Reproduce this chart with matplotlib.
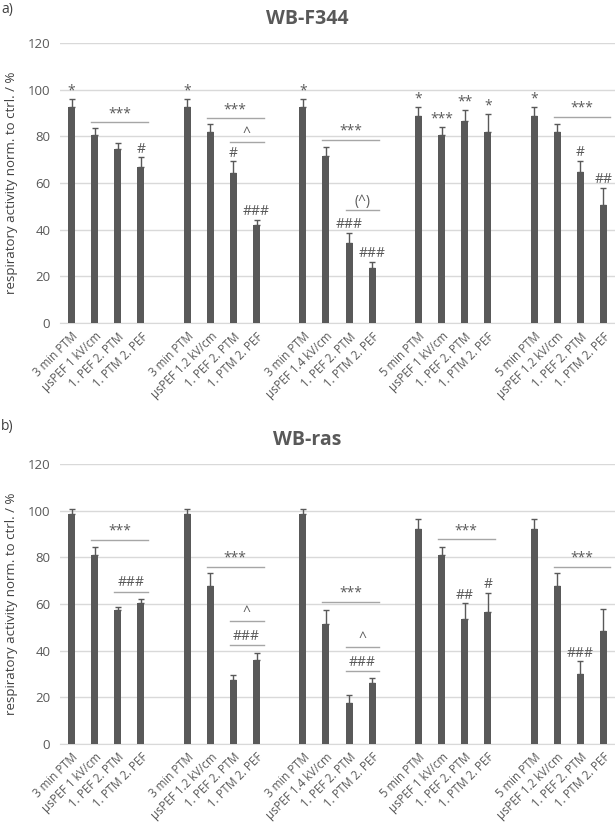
import matplotlib.pyplot as plt

plt.rcParams['font.family'] = ['Open Sans', 'DejaVu Sans']

# categories per group (4 bars each, 5 groups)
grupos = [
    ["3 min PTM", "µsPEF 1 kV/cm", "1. PEF 2. PTM", "1. PTM 2. PEF"],
    ["3 min PTM", "µsPEF 1.2 kV/cm", "1. PEF 2. PTM", "1. PTM 2. PEF"],
    ["3 min PTM", "µsPEF 1.4 kV/cm", "1. PEF 2. PTM", "1. PTM 2. PEF"],
    ["5 min PTM", "µsPEF 1 kV/cm", "1. PEF 2. PTM", "1. PTM 2. PEF"],
    ["5 min PTM", "µsPEF 1.2 kV/cm", "1. PEF 2. PTM", "1. PTM 2. PEF"],
]

# WB-F344
f344_val = [92.5, 80.5, 74.5, 67.0,
            92.5, 81.7, 64.3, 42.0,
            92.5, 71.6, 34.1, 23.7,
            88.7, 80.6, 86.7, 81.9,
            88.7, 81.7, 64.6, 50.6]
f344_err = [3.5, 3.3, 2.5, 4.0,
            3.5, 3.5, 5.0, 2.3,
            3.5, 3.8, 4.5, 2.6,
            4.0, 3.3, 4.4, 7.7,
            4.0, 3.5, 4.8, 7.4]

# WB-ras
ras_val = [98.7, 81.0, 57.3, 60.3,
           98.7, 67.8, 27.4, 36.0,
           98.7, 51.3, 17.5, 26.1,
           92.3, 81.0, 53.4, 56.6,
           92.3, 67.7, 30.0, 48.6]
ras_err = [2.0, 3.6, 1.6, 1.8,
           2.0, 5.3, 2.1, 2.9,
           2.0, 6.0, 3.7, 2.1,
           4.3, 3.6, 6.9, 8.3,
           4.3, 5.4, 5.4, 9.4]

# significance marks over single bars: (group, bar, text)
f344_marks = [(0, 0, '*'), (0, 3, '#'),
              (1, 0, '*'), (1, 2, '#'), (1, 3, '###'),
              (2, 0, '*'), (2, 2, '###'), (2, 3, '###'),
              (3, 0, '*'), (3, 1, '***'), (3, 2, '**'), (3, 3, '*'),
              (4, 0, '*'), (4, 2, '#'), (4, 3, '##')]
ras_marks = [(3, 2, '##'), (3, 3, '#'), (4, 2, '###')]

# brackets: (group, first bar, last bar, height, text)
f344_lines = [(0, 1, 3, 86.1, '***'),
              (1, 1, 3, 87.7, '***'), (1, 2, 3, 77.4, '^'),
              (2, 1, 3, 78.6, '***'), (2, 2, 3, 48.3, '(^)'),
              (4, 1, 3, 88.4, '***')]
ras_lines = [(0, 1, 3, 87.6, '***'), (0, 2, 3, 65.3, '###'),
             (1, 1, 3, 76.0, '***'), (1, 2, 3, 52.6, '^'), (1, 2, 3, 42.5, '###'),
             (2, 1, 3, 60.9, '***'), (2, 2, 3, 41.5, '^'), (2, 2, 3, 31.1, '###'),
             (3, 1, 3, 87.7, '***'),
             (4, 1, 3, 76.0, '***')]

cor = '#595959'
grade = '#d9d9d9'


def pos(g, b):
    return g * 5 + b


def painel(ax, vals, errs, marks, lines, titulo):
    xs = [pos(g, b) for g in range(5) for b in range(4)]
    ax.bar(xs, vals, width=0.3, color=cor, zorder=3)
    ax.errorbar(xs, vals, yerr=[[0] * len(errs), errs], fmt='none',
                ecolor=cor, elinewidth=1, capsize=2.5, capthick=1, zorder=3)
    for g, b, t in marks:
        i = g * 4 + b
        ax.text(pos(g, b), vals[i] + errs[i] + 0.3, t, ha='center', va='bottom',
                fontsize=10, color=cor)
    for g, b0, b1, y, t in lines:
        ax.plot([pos(g, b0) - 0.15, pos(g, b1) + 0.3], [y, y], color='#a6a6a6',
                lw=1, zorder=4)
        ax.text((pos(g, b0) + pos(g, b1)) / 2 + 0.07, y + 0.5, t, ha='center',
                va='bottom', fontsize=10, color=cor)
    ax.set_xlim(-0.5, 23.5)
    ax.set_ylim(0, 120)
    ax.set_yticks(range(0, 121, 20))
    ax.yaxis.grid(True, color=grade, lw=1, zorder=0)
    for s in ['top', 'right', 'left']:
        ax.spines[s].set_visible(False)
    ax.spines['bottom'].set_color(grade)
    ax.tick_params(axis='both', length=0, colors='#595959', labelsize=9.5)
    ax.tick_params(axis='y', pad=7)
    ax.tick_params(axis='x', pad=5)
    ticks = [pos(g, b) for g in range(5) for b in range(4)]
    nomes = [n for grupo in grupos for n in grupo]
    ax.set_xticks(ticks)
    ax.set_xticklabels(nomes, rotation=45, ha='right', rotation_mode='anchor',
                       fontsize=8.3)
    ax.set_ylabel('respiratory activity norm. to ctrl. / %', fontsize=9.5,
                  color='#404040')
    ax.yaxis.set_label_coords(-0.076, 0.5)
    # title is centred on the figure, not on the plot area
    ax.set_title(titulo, fontsize=14, fontweight='bold', color='#595959',
                 pad=14, x=0.445)


fig = plt.figure(figsize=(6.15, 8.22), dpi=100)
ax1 = fig.add_axes([0.0976, 0.607, 0.9024, 0.3406])
ax2 = fig.add_axes([0.0976, 0.0949, 0.9024, 0.3406])

painel(ax1, f344_val, f344_err, f344_marks, f344_lines, 'WB-F344')
painel(ax2, ras_val, ras_err, ras_marks, ras_lines, 'WB-ras')

fig.text(0.002, 0.998, 'a)', fontsize=10, color='#404040', ha='left', va='top')
fig.text(0.002, 0.49, 'b)', fontsize=10, color='#404040', ha='left', va='top')

fig.savefig('out.png', dpi=100)
